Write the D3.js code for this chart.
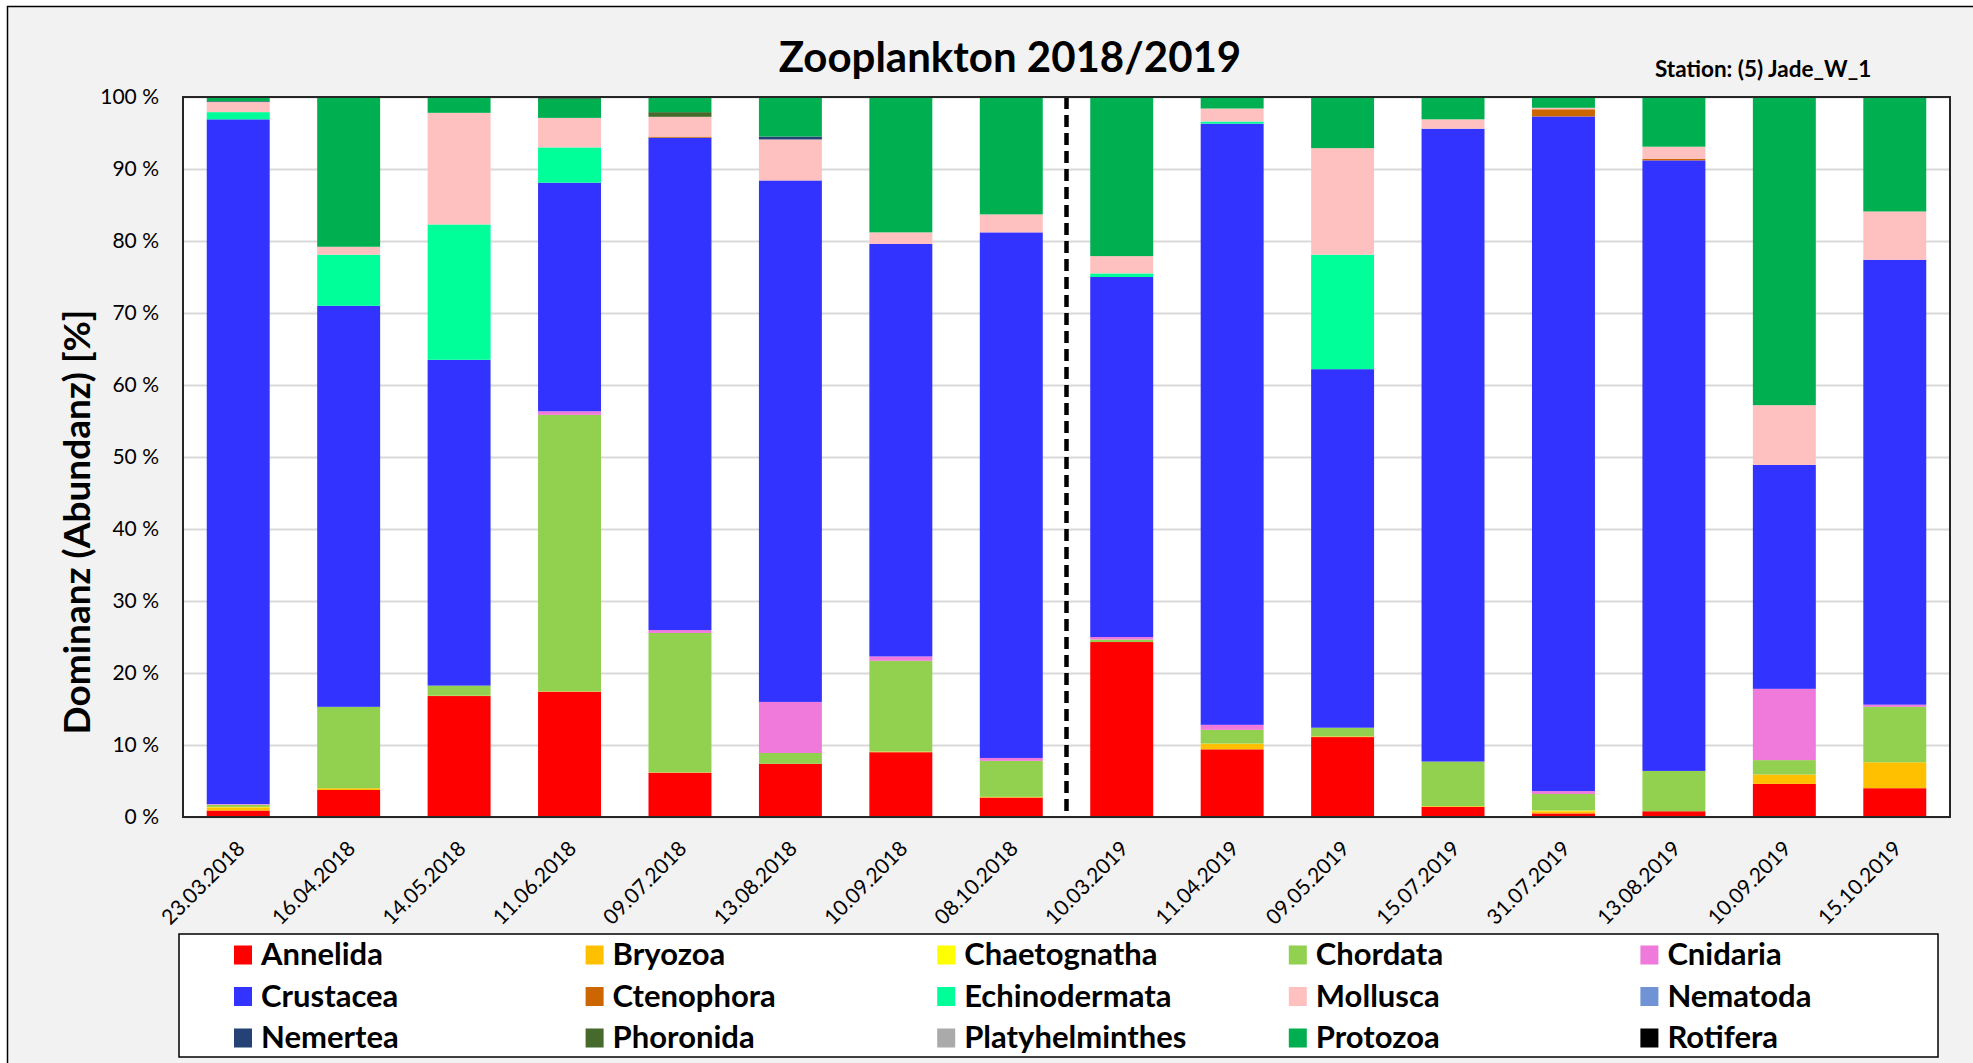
<!DOCTYPE html>
<html>
<head>
<meta charset="utf-8">
<script src="https://cdn.jsdelivr.net/npm/d3@7"></script>
<style>
  body { margin: 0; background: #fff; }
  text { font-family: Lato, "Open Sans", sans-serif; fill: #000; }
</style>
</head>
<body>
<div id="vis"></div>
<script>
// sampling dates
var dates = ["23.03.2018","16.04.2018","14.05.2018","11.06.2018","09.07.2018","13.08.2018","10.09.2018","08.10.2018",
             "10.03.2019","11.04.2019","09.05.2019","15.07.2019","31.07.2019","13.08.2019","10.09.2019","15.10.2019"];

// dominance in % per taxon
var annelida        = [0.9, 3.75, 16.8, 17.4, 6.15, 7.4, 9.0, 2.7, 24.3, 9.4, 11.1, 1.4, 0.5, 0.8, 4.6, 4.0];
var bryozoa         = [0.45, 0.25, 0.05, 0.05, 0.05, 0, 0.1, 0.1, 0, 0.8, 0.1, 0.1, 0.3, 0, 1.3, 3.6];
var chaetognatha    = [0.05, 0, 0, 0, 0, 0, 0, 0, 0, 0, 0, 0, 0.1, 0, 0, 0];
var chordata        = [0.3, 11.3, 1.4, 38.4, 19.35, 1.5, 12.6, 5.0, 0.35, 1.9, 1.2, 6.2, 2.3, 5.6, 2.0, 7.7];
var cnidaria        = [0.1, 0, 0, 0.5, 0.4, 7.1, 0.6, 0.4, 0.35, 0.7, 0, 0, 0.4, 0, 9.9, 0.3];
var crustacea       = [95.1, 55.7, 45.25, 31.75, 68.35, 72.5, 57.3, 73.0, 50.0, 83.5, 49.8, 87.9, 93.7, 84.8, 31.1, 61.8];
var ctenophora      = [0, 0, 0, 0, 0.15, 0, 0, 0, 0, 0, 0, 0, 1.0, 0.2, 0, 0];
var echinodermata   = [1.0, 7.1, 18.8, 4.9, 0, 0, 0, 0, 0.5, 0.3, 15.9, 0, 0, 0, 0, 0];
var mollusca        = [1.4, 1.1, 15.5, 4.1, 2.75, 5.7, 1.6, 2.5, 2.4, 1.8, 14.8, 1.3, 0.2, 1.7, 8.3, 6.7];
var nematoda        = [0, 0, 0, 0, 0, 0, 0, 0, 0, 0, 0, 0, 0, 0, 0, 0];
var nemertea        = [0.1, 0, 0, 0, 0, 0.4, 0, 0, 0, 0, 0, 0, 0, 0, 0, 0];
var phoronida       = [0, 0, 0, 0, 0.65, 0, 0, 0, 0, 0, 0, 0, 0, 0, 0, 0];
var platyhelminthes = [0, 0, 0, 0, 0, 0, 0, 0, 0, 0, 0, 0, 0, 0, 0, 0];
var protozoa        = [0.6, 20.8, 2.2, 2.7, 2.1, 5.5, 18.8, 16.3, 22.1, 1.6, 7.1, 3.1, 1.5, 6.9, 42.8, 15.9];
var rotifera        = [0, 0, 0, 0.2, 0, 0, 0, 0, 0, 0, 0, 0, 0, 0, 0, 0];

var taxa = ["Annelida","Bryozoa","Chaetognatha","Chordata","Cnidaria","Crustacea","Ctenophora","Echinodermata",
            "Mollusca","Nematoda","Nemertea","Phoronida","Platyhelminthes","Protozoa","Rotifera"];
var values = [annelida, bryozoa, chaetognatha, chordata, cnidaria, crustacea, ctenophora, echinodermata,
              mollusca, nematoda, nemertea, phoronida, platyhelminthes, protozoa, rotifera];
var colors = ["#ff0000","#ffc000","#ffff00","#92d050","#f07adc","#3333ff","#cc6600","#00ff99",
              "#ffc0c0","#6f93d5","#244275","#456a2c","#aaaaaa","#00b050","#000000"];
var yTicks = [0, 0.1, 0.2, 0.3, 0.4, 0.5, 0.6, 0.7, 0.8, 0.9, 1];

var rows = dates.map(function(d, i) {
  var r = { date: d };
  taxa.forEach(function(t, k) { r[t] = values[k][i]; });
  return r;
});

var W = 1973, H = 1063;
var pLeft = 183, pRight = 1950, pTop = 97, pBottom = 817;

var svg = d3.select('#vis').append('svg').attr('width', W).attr('height', H);

// chart area
svg.append('rect')
  .attr('x', 7.5).attr('y', 6.5).attr('width', W + 20).attr('height', H + 20)
  .attr('fill', '#f2f2f2').attr('stroke', '#000').attr('stroke-width', 1.5);

svg.append('rect')
  .attr('x', pLeft).attr('y', pTop).attr('width', pRight - pLeft).attr('height', pBottom - pTop)
  .attr('fill', '#fff');

var x = d3.scaleBand().domain(dates).range([pLeft, pRight]).paddingInner(0.43).paddingOuter(0.215);
var y = d3.scaleLinear().domain([0, 1]).range([pBottom, pTop]);
var color = d3.scaleOrdinal().domain(taxa).range(colors);

// grid + y labels
var yAxis = svg.append('g').attr('transform', 'translate(' + pLeft + ',0)')
  .call(d3.axisLeft(y).tickValues(yTicks).tickSize(-(pRight - pLeft)).tickPadding(24)
    .tickFormat(function(d) { return Math.round(d * 100) + ' %'; }));
yAxis.select('.domain').remove();
yAxis.selectAll('line').attr('stroke', '#d9d9d9').attr('stroke-width', 2);
yAxis.selectAll('text').attr('font-size', 21).attr('fill', '#000').style('font-family', 'Lato');

var stack = d3.stack().keys(taxa).offset(d3.stackOffsetExpand);
var series = stack(rows);

svg.append('g').selectAll('g')
  .data(series).enter().append('g')
  .attr('fill', function(d) { return color(d.key); })
  .selectAll('rect')
  .data(function(d) { return d; }).enter().append('rect')
  .attr('x', function(d) { return x(d.data.date); })
  .attr('width', x.bandwidth())
  .attr('y', function(d) { return y(d[1]); })
  .attr('height', function(d) { return y(d[0]) - y(d[1]); });

// separator between the two years
var sepX = (x(dates[7]) + x.bandwidth() + x(dates[8])) / 2;
svg.append('line')
  .attr('x1', sepX).attr('x2', sepX).attr('y1', pTop).attr('y2', pBottom)
  .attr('stroke', '#000').attr('stroke-width', 4.5).attr('stroke-dasharray', '12,6');

// plot border
svg.append('rect')
  .attr('x', pLeft).attr('y', pTop).attr('width', pRight - pLeft).attr('height', pBottom - pTop)
  .attr('fill', 'none').attr('stroke', '#262626').attr('stroke-width', 2);

// x labels
var xAxis = svg.append('g').attr('transform', 'translate(0,' + pBottom + ')')
  .call(d3.axisBottom(x).tickSize(0).tickPadding(0));
xAxis.select('.domain').remove();
xAxis.selectAll('text')
  .attr('font-size', 21).attr('fill', '#000').style('font-family', 'Lato')
  .attr('text-anchor', 'end').attr('dy', null).attr('y', 0)
  .attr('transform', 'translate(8,33) rotate(-45)');

// titles
svg.append('text')
  .attr('x', 1010).attr('y', 72).attr('text-anchor', 'middle')
  .attr('font-size', 42).attr('font-weight', 'bold')
  .text('Zooplankton 2018/2019');

svg.append('text')
  .attr('x', 1655).attr('y', 77)
  .attr('font-size', 22.5).attr('font-weight', 'bold')
  .text('Station: (5) Jade_W_1');

svg.append('text')
  .attr('transform', 'translate(75,522) rotate(-90)')
  .attr('text-anchor', 'middle').attr('dominant-baseline', 'central')
  .attr('font-size', 37).attr('font-weight', 'bold')
  .text('Dominanz (Abundanz) [%]');

// legend
svg.append('rect')
  .attr('x', 179).attr('y', 934).attr('width', 1759).attr('height', 123)
  .attr('fill', '#fff').attr('stroke', '#000').attr('stroke-width', 1.5);

var legend = svg.append('g').selectAll('g')
  .data(taxa).enter().append('g')
  .attr('transform', function(d, i) {
    return 'translate(' + (234 + (i % 5) * 351.6) + ',' + (955 + Math.floor(i / 5) * 41.5) + ')';
  });
legend.append('rect')
  .attr('x', 0).attr('y', -9.5).attr('width', 18).attr('height', 19)
  .attr('fill', function(d) { return color(d); });
legend.append('text')
  .attr('x', 27).attr('y', 10)
  .attr('font-size', 31).attr('font-weight', 'bold')
  .text(function(d) { return d; });
</script>
</body>
</html>
